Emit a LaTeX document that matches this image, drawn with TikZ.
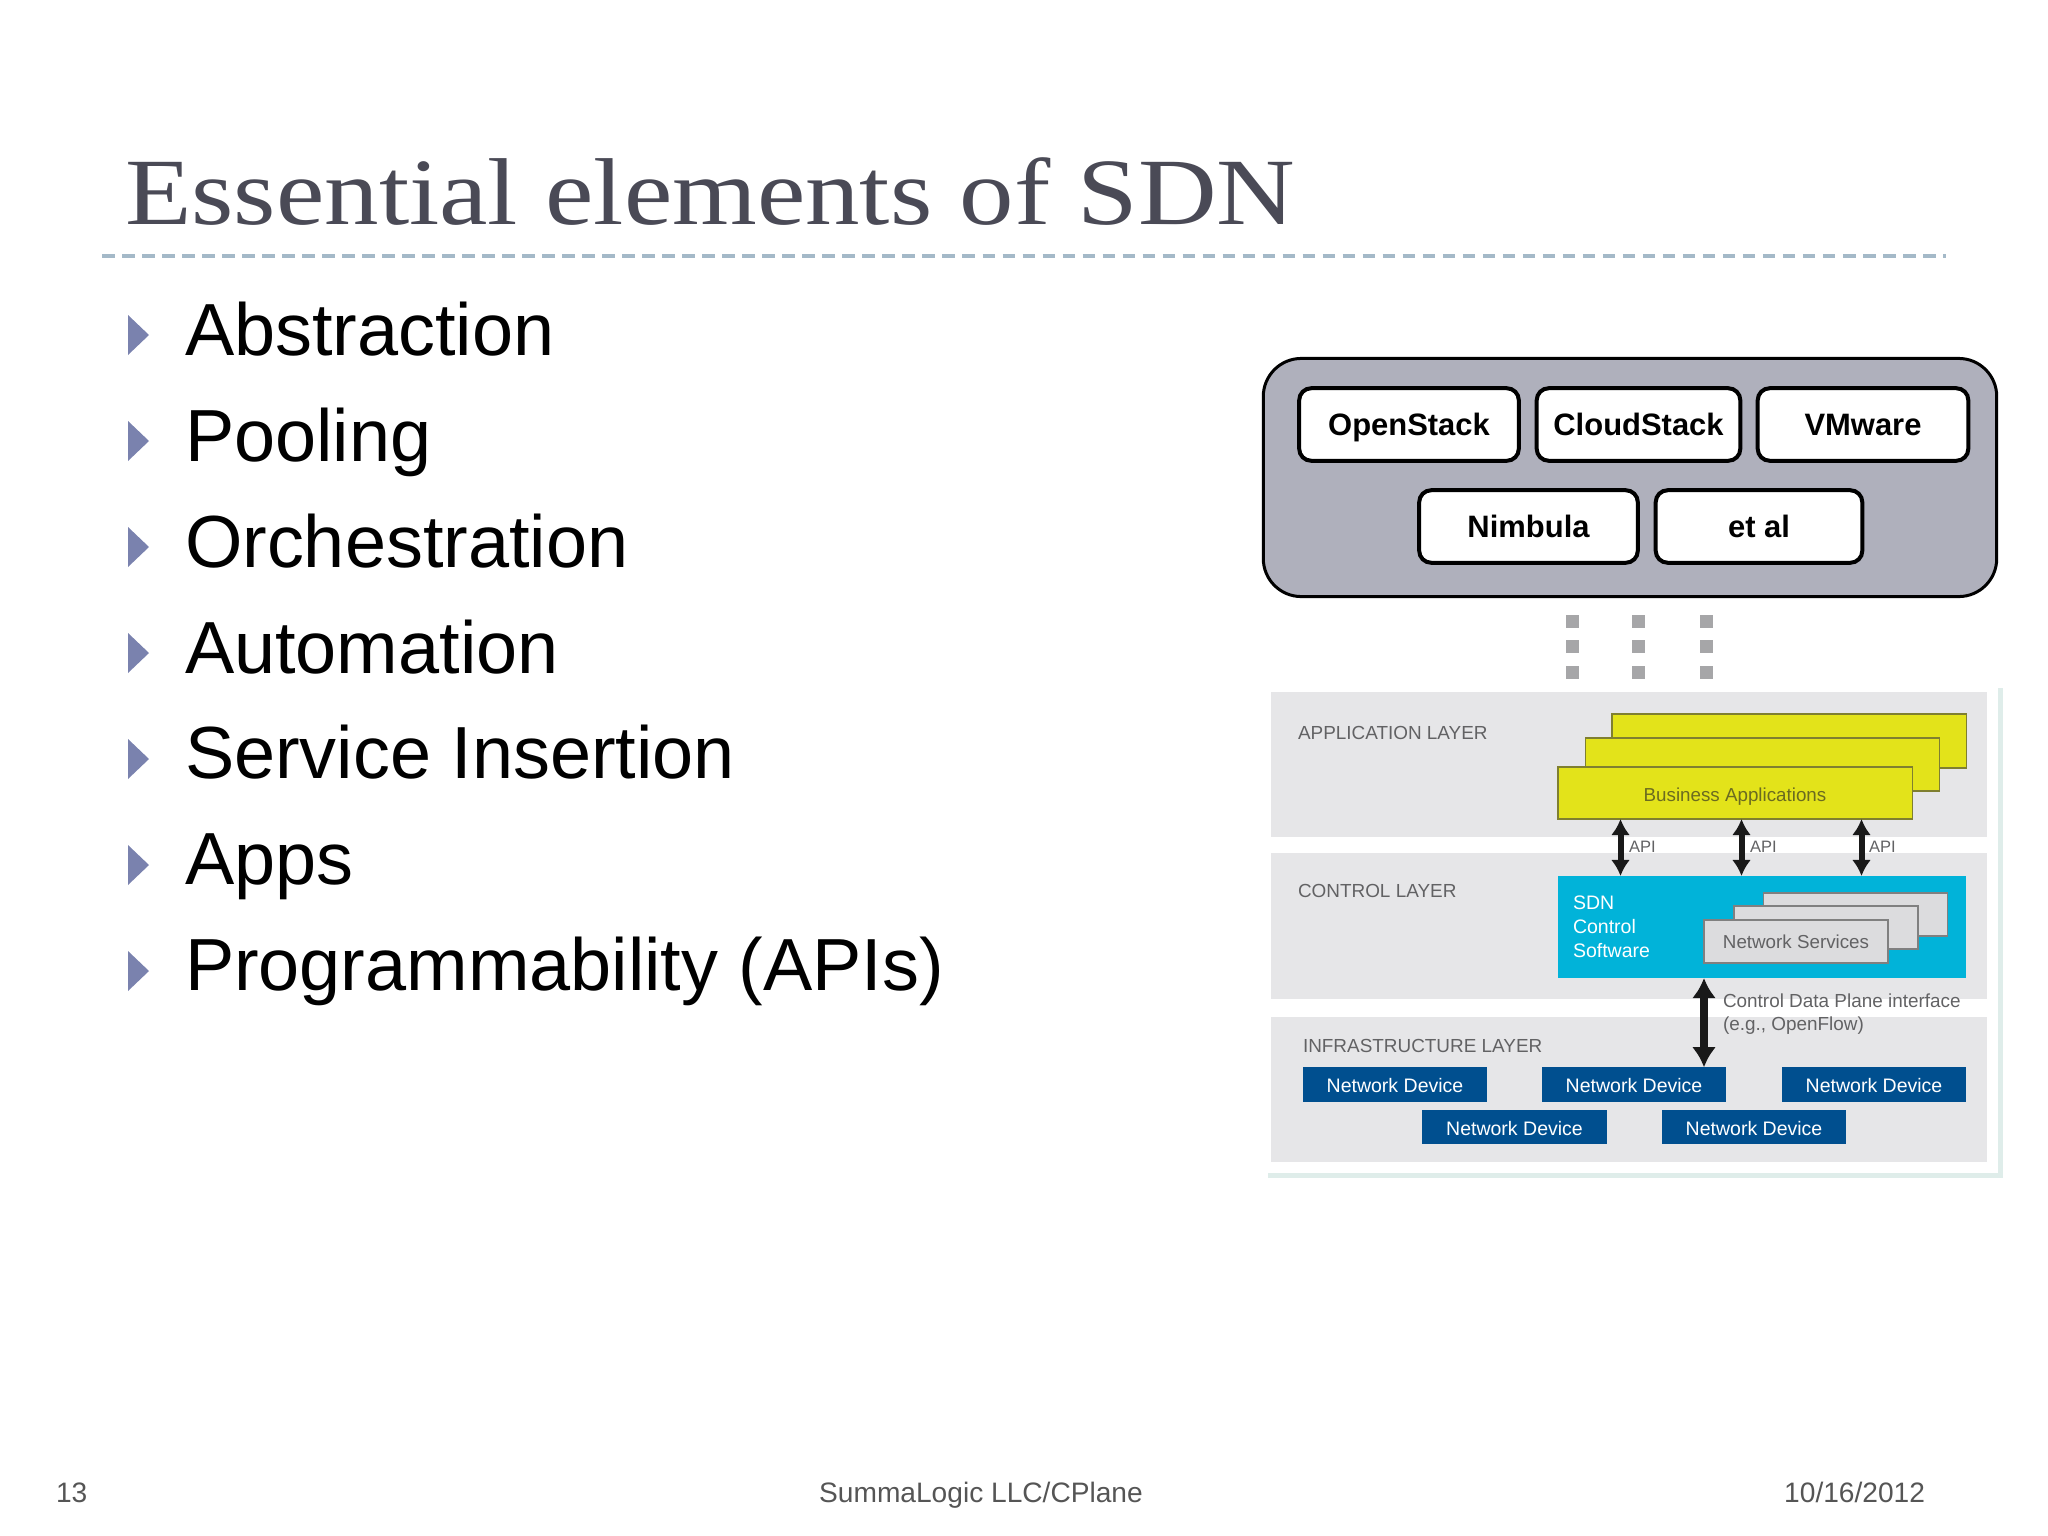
\documentclass[tikz,border=0pt]{standalone}
\usepackage{fontspec}
\usepackage{tikz}
\usetikzlibrary{arrows.meta}
\setmainfont{Liberation Sans}
\newfontfamily\titlefont[FakeStretch=1.147]{Liberation Serif}
\definecolor{slateink}{HTML}{4A4A56}
\definecolor{dashblue}{HTML}{A4B9C8}
\definecolor{bulletblue}{HTML}{7A82AE}
\definecolor{footgrey}{HTML}{555555}
\definecolor{stackgrey}{HTML}{AFB0BC}
\definecolor{dotgrey}{HTML}{A6A6A8}
\definecolor{layergrey}{HTML}{E6E6E8}
\definecolor{framegreen}{HTML}{DFEDEA}
\definecolor{appyellow}{HTML}{E3E31A}
\definecolor{appedge}{HTML}{7F7F30}
\definecolor{apptext}{HTML}{6B6B20}
\definecolor{sdnblue}{HTML}{01B3D9}
\definecolor{svcgrey}{HTML}{DCDCDE}
\definecolor{devblue}{HTML}{004F8F}
\definecolor{smalltext}{HTML}{626264}
\tikzset{
	every node/.style={inner sep=0pt,outer sep=0pt},
	bullettext/.style={anchor=base west,font=\fontsize{21}{25}\selectfont,text=black},
	bulletmark/.style={fill=bulletblue},
	foottext/.style={anchor=base,font=\fontsize{8}{10}\selectfont,text=footgrey},
	stackbox/.style={draw=black,fill=white,line width=0.04cm,rounded corners=0.12cm,minimum height=0.725cm,text height=0.22cm,text depth=0cm,font=\fontsize{8.8}{11}\selectfont\bfseries},
	dotbox/.style={fill=dotgrey,minimum width=0.13cm,minimum height=0.13cm},
	layerbox/.style={fill=layergrey,minimum width=7.16cm,minimum height=1.45cm},
	layertext/.style={anchor=west,font=\fontsize{5.38}{6.5}\selectfont,text=smalltext},
	apitext/.style={anchor=west,font=\fontsize{4.7}{6}\selectfont,text=smalltext},
	appbox/.style={draw=appedge,fill=appyellow,line width=0.012cm,minimum width=3.54cm,text height=0.16cm,text depth=0cm,font=\fontsize{5.34}{6.5}\selectfont,text=apptext},
	svcbox/.style={draw=black!50,fill=svcgrey,line width=0.012cm,minimum width=1.84cm,minimum height=0.43cm,font=\fontsize{5.34}{6.5}\selectfont,text=smalltext},
	devbox/.style={fill=devblue,minimum width=1.84cm,minimum height=0.345cm,text height=0.165cm,text depth=0cm,font=\fontsize{5.55}{6.5}\selectfont,text=white},
	apiarrow/.style={line width=0.06cm,black!90,{Latex[length=0.16cm,width=0.19cm]}-{Latex[length=0.16cm,width=0.19cm]}},
	cdpiarrow/.style={line width=0.075cm,black!90,{Latex[length=0.2cm,width=0.24cm]}-{Latex[length=0.2cm,width=0.24cm]}},
}
\begin{document}
\begin{tikzpicture}[x=0.01cm,y=-0.01cm]
	\useasboundingbox (0,0) rectangle (2048,1536);
	
	% heading
	\node[anchor=base west,font=\fontsize{27}{32}\titlefont,text=slateink] (title) at (125, 224) {Essential elements of SDN};
	\draw[dashblue,line width=0.035cm,dash pattern=on 0.125cm off 0.075cm] (102, 256) -- (1946, 256);
	
	% bullets
	\fill[bulletmark] (128, 315) -- (149, 335) -- (128, 355) -- cycle;
	\fill[bulletmark] (128, 421) -- (149, 441) -- (128, 461) -- cycle;
	\fill[bulletmark] (128, 527) -- (149, 547) -- (128, 567) -- cycle;
	\fill[bulletmark] (128, 633) -- (149, 653) -- (128, 673) -- cycle;
	\fill[bulletmark] (128, 739) -- (149, 759) -- (128, 779) -- cycle;
	\fill[bulletmark] (128, 845) -- (149, 865) -- (128, 885) -- cycle;
	\fill[bulletmark] (128, 951) -- (149, 971) -- (128, 991) -- cycle;
	\node[bullettext] (abstraction) at (185, 355) {Abstraction};
	\node[bullettext] (pooling) at (185, 461) {Pooling};
	\node[bullettext] (orchestration) at (185, 567) {Orchestration};
	\node[bullettext] (automation) at (185, 673) {Automation};
	\node[bullettext] (insertion) at (185, 778) {Service Insertion};
	\node[bullettext] (apps) at (185, 884) {Apps};
	\node[bullettext] (program) at (185, 990) {Programmability (APIs)};
	
	% cloud stacks
	\node[draw=black,fill=stackgrey,line width=0.03cm,rounded corners=0.38cm,minimum width=7.33cm,minimum height=2.38cm] (stack) at (1630, 477.5) {};
	\node[stackbox,minimum width=2.195cm] (openstack) at (1409, 424.5) {OpenStack};
	\node[stackbox,minimum width=2.035cm] (cloudstack) at (1638.5, 424.5) {CloudStack};
	\node[stackbox,minimum width=2.105cm] (vmware) at (1863, 424.5) {VMware};
	\node[stackbox,minimum width=2.185cm] (nimbula) at (1528.5, 526.5) {Nimbula};
	\node[stackbox,minimum width=2.065cm] (etal) at (1759, 526.5) {et al};
	
	\node[dotbox] (dota) at (1572, 621) {};
	\node[dotbox] (dotb) at (1638.5, 621) {};
	\node[dotbox] (dotc) at (1706.5, 621) {};
	\node[dotbox] (dotd) at (1572, 646) {};
	\node[dotbox] (dote) at (1638.5, 646) {};
	\node[dotbox] (dotf) at (1706.5, 646) {};
	\node[dotbox] (dotg) at (1572, 672) {};
	\node[dotbox] (doth) at (1638.5, 672) {};
	\node[dotbox] (doti) at (1706.5, 672) {};
	
	% layers
	\draw[framegreen,line width=0.05cm] (2000, 688) -- (2000, 1175) -- (1268, 1175);
	\node[layerbox] (applayer) at (1629, 764.5) {};
	\node[layerbox] (ctrllayer) at (1629, 926) {};
	\node[layerbox] (infralayer) at (1629, 1089.5) {};
	\node[layertext] (applabel) at (1298, 733) {APPLICATION LAYER};
	\node[layertext] (ctrllabel) at (1298, 891) {CONTROL LAYER};
	\node[layertext] (infralabel) at (1303, 1046) {INFRASTRUCTURE LAYER};
	
	\node[appbox,minimum height=0.54cm] (appc) at (1789, 741) {};
	\node[appbox,minimum height=0.53cm] (appb) at (1762.5, 764.5) {};
	\node[appbox,minimum height=0.52cm] (appa) at (1735, 793) {Business Applications};
	
	\node[fill=sdnblue,minimum width=4.08cm,minimum height=1.02cm] (sdn) at (1762, 927) {};
	\node[anchor=north west,align=left,font=\fontsize{5.55}{6.75}\selectfont,text=white] (sdnlabel) at (1573, 896) {SDN\\Control\\Software};
	\node[svcbox] (svcc) at (1855.5, 914.5) {};
	\node[svcbox] (svcb) at (1826, 927.5) {};
	\node[svcbox] (svca) at (1796, 941.5) {Network Services};
	
	\node[devbox] (deva) at (1395, 1084.5) {Network Device};
	\node[devbox] (devb) at (1634, 1084.5) {Network Device};
	\node[devbox] (devc) at (1874, 1084.5) {Network Device};
	\node[devbox] (devd) at (1514.5, 1127) {Network Device};
	\node[devbox] (deve) at (1754, 1127) {Network Device};
	
	\node[apitext] (apia) at (1629, 847) {API};
	\node[apitext] (apib) at (1750, 847) {API};
	\node[apitext] (apic) at (1869, 847) {API};
	\node[layertext,align=left] (cdpi) at (1723, 1014.5) {Control Data Plane interface\\(e.g., OpenFlow)};
	
	\coordinate (xa) at (1620.5, 847);
	\coordinate (xb) at (1741.5, 847);
	\coordinate (xc) at (1861.5, 847);
	\coordinate (xd) at (1704, 1020);
	
	\path[apiarrow] (appa.south -| xa) edge (sdn.north -| xa);
	\path[apiarrow] (appa.south -| xb) edge (sdn.north -| xb);
	\path[apiarrow] (appa.south -| xc) edge (sdn.north -| xc);
	\path[cdpiarrow] (sdn.south -| xd) edge (devb.north -| xd);
	
	% footer
	\node[foottext,anchor=base west] (pagenum) at (56, 1502) {13};
	\node[foottext] (footer) at (981, 1502) {SummaLogic LLC/CPlane};
	\node[foottext,anchor=base east] (date) at (1925, 1502) {10/16/2012};
	
\end{tikzpicture}
\end{document}
